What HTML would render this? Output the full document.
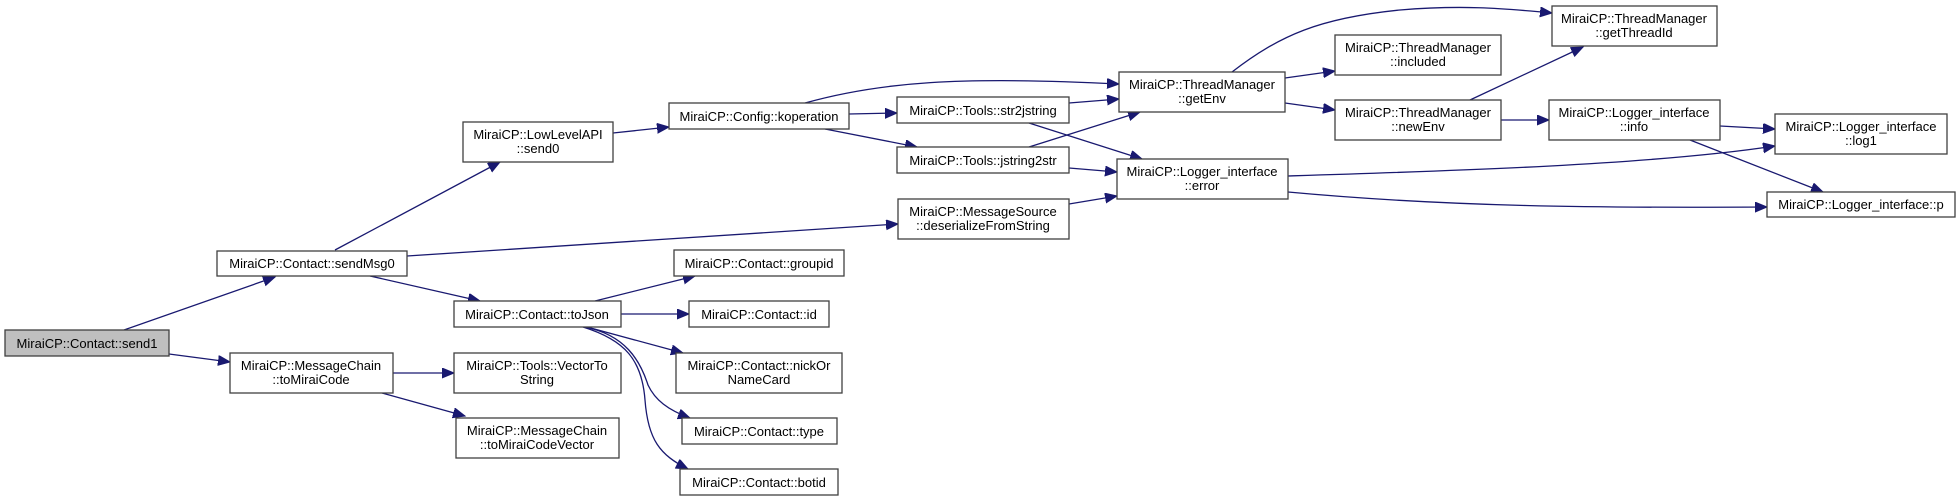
<!DOCTYPE html>
<html><head><meta charset="utf-8"><style>
html,body{margin:0;padding:0;background:#fff;}
svg{display:block;}
text{font-family:"Liberation Sans",Arial,sans-serif;font-size:13px;fill:#000;text-anchor:middle;}
.n{fill:#fff;stroke:#404040;stroke-width:1.3;}
.e{fill:none;stroke:#191970;stroke-width:1.3;}
</style></head><body>
<svg width="1960" height="501" viewBox="0 0 1960 501" xmlns="http://www.w3.org/2000/svg">
<defs>
<marker id="a" markerUnits="userSpaceOnUse" markerWidth="14" markerHeight="12" refX="12" refY="5" orient="auto">
<path d="M0,0 L12,5 L0,10 Z" fill="#191970" stroke="#191970"/>
</marker>
</defs>
<g marker-end="url(#a)">
<path class="e" d="M124,330 L275,277"/>
<path class="e" d="M169,354 L230,362"/>
<path class="e" d="M335,250 L500,162"/>
<path class="e" d="M407,256 L898,224"/>
<path class="e" d="M370,276 L480,301"/>
<path class="e" d="M613,133 L669,127"/>
<path class="e" d="M805,103 C880,82 960,76 1119,84"/>
<path class="e" d="M849,114 L897,113"/>
<path class="e" d="M825,129 L917,147"/>
<path class="e" d="M1069,103 L1119,99"/>
<path class="e" d="M1029,123 L1142,159"/>
<path class="e" d="M1029,147 L1140,112"/>
<path class="e" d="M1069,168 L1117,172"/>
<path class="e" d="M1069,204 L1117,196"/>
<path class="e" d="M1232,72 C1280,35 1320,18 1400,10 C1460,5 1500,8 1552,13"/>
<path class="e" d="M1285,78 L1335,71"/>
<path class="e" d="M1285,103 L1335,110"/>
<path class="e" d="M1470,100 L1583,47"/>
<path class="e" d="M1501,120 L1549,120"/>
<path class="e" d="M1720,126 L1775,129"/>
<path class="e" d="M1690,140 L1823,192"/>
<path class="e" d="M1288,176 C1450,171 1650,165 1775,146"/>
<path class="e" d="M1288,192 C1450,207 1600,208 1767,207"/>
<path class="e" d="M595,301 L695,276"/>
<path class="e" d="M621,314 L689,314"/>
<path class="e" d="M587,327 L683,353"/>
<path class="e" d="M585,327 C625,335 640,360 648,385 C655,400 668,410 690,418"/>
<path class="e" d="M583,327 C625,340 642,360 645,400 C648,440 660,455 688,469"/>
<path class="e" d="M393,373 L454,373"/>
<path class="e" d="M382,393 L465,416"/>
</g>
<rect x="5" y="330" width="164" height="26" fill="#bfbfbf" stroke="#404040" stroke-width="1.3"/>
<text x="87" y="348">MiraiCP::Contact::send1</text>
<rect class="n" x="217" y="251" width="190" height="25"/>
<text x="312" y="268">MiraiCP::Contact::sendMsg0</text>
<rect class="n" x="463" y="122" width="150" height="40"/>
<text x="538" y="139">MiraiCP::LowLevelAPI</text><text x="538" y="153">::send0</text>
<rect class="n" x="230" y="353" width="163" height="40"/>
<text x="311" y="370">MiraiCP::MessageChain</text><text x="311" y="384">::toMiraiCode</text>
<rect class="n" x="454" y="301" width="167" height="26"/>
<text x="537" y="319">MiraiCP::Contact::toJson</text>
<rect class="n" x="454" y="353" width="167" height="40"/>
<text x="537" y="370">MiraiCP::Tools::VectorTo</text><text x="537" y="384">String</text>
<rect class="n" x="456" y="418" width="163" height="40"/>
<text x="537" y="435">MiraiCP::MessageChain</text><text x="537" y="449">::toMiraiCodeVector</text>
<rect class="n" x="669" y="103" width="180" height="26"/>
<text x="759" y="121">MiraiCP::Config::koperation</text>
<rect class="n" x="897" y="97" width="172" height="26"/>
<text x="983" y="115">MiraiCP::Tools::str2jstring</text>
<rect class="n" x="897" y="147" width="172" height="26"/>
<text x="983" y="165">MiraiCP::Tools::jstring2str</text>
<rect class="n" x="898" y="199" width="171" height="40"/>
<text x="983" y="216">MiraiCP::MessageSource</text><text x="983" y="230">::deserializeFromString</text>
<rect class="n" x="674" y="250" width="170" height="26"/>
<text x="759" y="268">MiraiCP::Contact::groupid</text>
<rect class="n" x="689" y="301" width="140" height="26"/>
<text x="759" y="319">MiraiCP::Contact::id</text>
<rect class="n" x="676" y="353" width="166" height="40"/>
<text x="759" y="370">MiraiCP::Contact::nickOr</text><text x="759" y="384">NameCard</text>
<rect class="n" x="682" y="418" width="155" height="26"/>
<text x="759" y="436">MiraiCP::Contact::type</text>
<rect class="n" x="680" y="469" width="158" height="26"/>
<text x="759" y="487">MiraiCP::Contact::botid</text>
<rect class="n" x="1119" y="72" width="166" height="40"/>
<text x="1202" y="89">MiraiCP::ThreadManager</text><text x="1202" y="103">::getEnv</text>
<rect class="n" x="1117" y="159" width="171" height="40"/>
<text x="1202" y="176">MiraiCP::Logger_interface</text><text x="1202" y="190">::error</text>
<rect class="n" x="1335" y="35" width="166" height="40"/>
<text x="1418" y="52">MiraiCP::ThreadManager</text><text x="1418" y="66">::included</text>
<rect class="n" x="1335" y="100" width="166" height="40"/>
<text x="1418" y="117">MiraiCP::ThreadManager</text><text x="1418" y="131">::newEnv</text>
<rect class="n" x="1552" y="6" width="165" height="40"/>
<text x="1634" y="23">MiraiCP::ThreadManager</text><text x="1634" y="37">::getThreadId</text>
<rect class="n" x="1549" y="100" width="171" height="40"/>
<text x="1634" y="117">MiraiCP::Logger_interface</text><text x="1634" y="131">::info</text>
<rect class="n" x="1775" y="114" width="172" height="40"/>
<text x="1861" y="131">MiraiCP::Logger_interface</text><text x="1861" y="145">::log1</text>
<rect class="n" x="1767" y="192" width="188" height="25"/>
<text x="1861" y="209">MiraiCP::Logger_interface::p</text>
</svg>
</body></html>
